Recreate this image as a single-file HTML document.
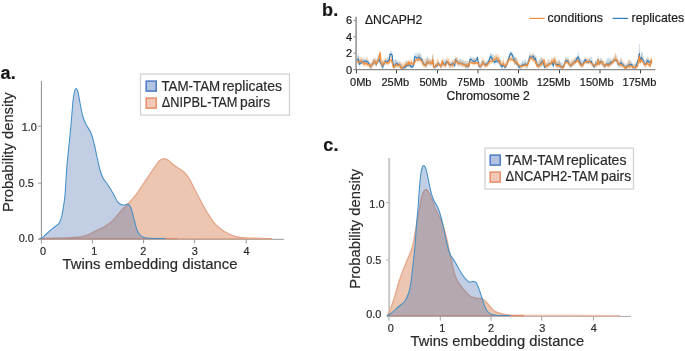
<!DOCTYPE html>
<html lang="en"><head><meta charset="utf-8"><title>Twins embedding distance</title>
<style>html,body{margin:0;padding:0;background:#fff}svg{display:block}text{font-family:"Liberation Sans",Arial,sans-serif;fill:#2b2b2b}text.k{fill:#1c1c1c}</style>
</head><body>
<svg width="685" height="351" viewBox="0 0 685 351">
<rect width="685" height="351" fill="#fff"/>
<g stroke="#2b2b2b" stroke-width="0.2">
<path d="M41.40,81.00 V239.80" fill="none" stroke="#8c8c8c" stroke-width="1.00"/>
<path d="M40.90,239.30 H283.90" fill="none" stroke="#999" stroke-width="1"/>
<path d="M41.40,239.30 v4.2" stroke="#8c8c8c" stroke-width="0.9"/>
<text x="43.00" y="254.60" font-size="10.9" text-anchor="middle">0</text>
<path d="M92.40,239.30 v4.2" stroke="#8c8c8c" stroke-width="0.9"/>
<text x="94.30" y="254.60" font-size="10.9" text-anchor="middle">1</text>
<path d="M143.60,239.30 v4.2" stroke="#8c8c8c" stroke-width="0.9"/>
<text x="143.40" y="254.60" font-size="10.9" text-anchor="middle">2</text>
<path d="M194.60,239.30 v4.2" stroke="#8c8c8c" stroke-width="0.9"/>
<text x="194.80" y="254.60" font-size="10.9" text-anchor="middle">3</text>
<path d="M246.20,239.30 v4.2" stroke="#8c8c8c" stroke-width="0.9"/>
<text x="246.50" y="254.60" font-size="10.9" text-anchor="middle">4</text>
<path d="M41.20,239.20 h-3.20" stroke="#8c8c8c" stroke-width="0.9"/>
<text x="33.90" y="241.70" font-size="10.9" text-anchor="end">0.0</text>
<path d="M41.20,183.20 h-3.20" stroke="#8c8c8c" stroke-width="0.9"/>
<text x="33.90" y="187.30" font-size="10.9" text-anchor="end">0.5</text>
<path d="M41.20,126.20 h-3.20" stroke="#8c8c8c" stroke-width="0.9"/>
<text x="36.90" y="131.00" font-size="10.9" text-anchor="end">1.0</text>
<path d="M39.60,238.60 C44.00,238.50 59.27,238.27 66.00,238.00 C72.73,237.73 76.33,237.50 80.00,237.00 C83.67,236.50 85.33,236.00 88.00,235.00 C90.67,234.00 93.33,232.33 96.00,231.00 C98.67,229.67 101.67,228.33 104.00,227.00 C106.33,225.67 108.00,224.67 110.00,223.00 C112.00,221.33 114.00,219.17 116.00,217.00 C118.00,214.83 120.00,212.17 122.00,210.00 C124.00,207.83 125.70,206.50 128.00,204.00 C130.30,201.50 132.67,199.17 135.80,195.00 C138.93,190.83 143.97,183.17 146.80,179.00 C149.63,174.83 150.83,172.90 152.80,170.00 C154.77,167.10 157.20,163.33 158.60,161.60 C160.00,159.87 160.23,160.08 161.20,159.60 C162.17,159.12 163.27,158.63 164.40,158.70 C165.53,158.77 166.57,159.02 168.00,160.00 C169.43,160.98 171.33,163.27 173.00,164.60 C174.67,165.93 176.33,166.90 178.00,168.00 C179.67,169.10 181.50,169.97 183.00,171.20 C184.50,172.43 185.83,173.90 187.00,175.40 C188.17,176.90 188.83,178.10 190.00,180.20 C191.17,182.30 192.73,185.53 194.00,188.00 C195.27,190.47 195.93,191.83 197.60,195.00 C199.27,198.17 201.93,203.33 204.00,207.00 C206.07,210.67 208.00,214.00 210.00,217.00 C212.00,220.00 213.67,222.62 216.00,225.00 C218.33,227.38 221.33,229.58 224.00,231.30 C226.67,233.02 229.33,234.27 232.00,235.30 C234.67,236.33 237.33,237.03 240.00,237.50 C242.67,237.97 242.67,237.92 248.00,238.10 C253.33,238.28 268.00,238.52 272.00,238.60 L272.00,239.00 L39.60,239.00 Z" fill="#d48052" fill-opacity="0.45" stroke="none"/>
<path d="M39.60,238.60 C44.00,238.50 59.27,238.27 66.00,238.00 C72.73,237.73 76.33,237.50 80.00,237.00 C83.67,236.50 85.33,236.00 88.00,235.00 C90.67,234.00 93.33,232.33 96.00,231.00 C98.67,229.67 101.67,228.33 104.00,227.00 C106.33,225.67 108.00,224.67 110.00,223.00 C112.00,221.33 114.00,219.17 116.00,217.00 C118.00,214.83 120.00,212.17 122.00,210.00 C124.00,207.83 125.70,206.50 128.00,204.00 C130.30,201.50 132.67,199.17 135.80,195.00 C138.93,190.83 143.97,183.17 146.80,179.00 C149.63,174.83 150.83,172.90 152.80,170.00 C154.77,167.10 157.20,163.33 158.60,161.60 C160.00,159.87 160.23,160.08 161.20,159.60 C162.17,159.12 163.27,158.63 164.40,158.70 C165.53,158.77 166.57,159.02 168.00,160.00 C169.43,160.98 171.33,163.27 173.00,164.60 C174.67,165.93 176.33,166.90 178.00,168.00 C179.67,169.10 181.50,169.97 183.00,171.20 C184.50,172.43 185.83,173.90 187.00,175.40 C188.17,176.90 188.83,178.10 190.00,180.20 C191.17,182.30 192.73,185.53 194.00,188.00 C195.27,190.47 195.93,191.83 197.60,195.00 C199.27,198.17 201.93,203.33 204.00,207.00 C206.07,210.67 208.00,214.00 210.00,217.00 C212.00,220.00 213.67,222.62 216.00,225.00 C218.33,227.38 221.33,229.58 224.00,231.30 C226.67,233.02 229.33,234.27 232.00,235.30 C234.67,236.33 237.33,237.03 240.00,237.50 C242.67,237.97 242.67,237.92 248.00,238.10 C253.33,238.28 268.00,238.52 272.00,238.60" fill="none" stroke="#e5a98d" stroke-width="1.40" stroke-linejoin="round"/>
<path d="M39.60,238.90 C39.98,238.75 40.68,238.90 41.90,238.00 C43.12,237.10 45.23,234.97 46.90,233.50 C48.57,232.03 50.23,230.58 51.90,229.20 C53.57,227.82 55.63,226.30 56.90,225.20 C58.17,224.10 58.65,224.30 59.50,222.60 C60.35,220.90 61.25,218.27 62.00,215.00 C62.75,211.73 63.50,206.33 64.00,203.00 C64.50,199.67 64.50,201.33 65.00,195.00 C65.50,188.67 66.33,173.33 67.00,165.00 C67.67,156.67 68.33,151.67 69.00,145.00 C69.67,138.33 70.33,132.33 71.00,125.00 C71.67,117.67 72.43,106.50 73.00,101.00 C73.57,95.50 73.90,94.10 74.40,92.00 C74.90,89.90 75.40,88.40 76.00,88.40 C76.60,88.40 77.33,89.57 78.00,92.00 C78.67,94.43 79.17,98.83 80.00,103.00 C80.83,107.17 81.93,113.33 83.00,117.00 C84.07,120.67 85.07,122.33 86.40,125.00 C87.73,127.67 89.73,130.00 91.00,133.00 C92.27,136.00 93.00,139.00 94.00,143.00 C95.00,147.00 96.00,152.50 97.00,157.00 C98.00,161.50 99.00,166.50 100.00,170.00 C101.00,173.50 101.67,175.50 103.00,178.00 C104.33,180.50 106.17,182.17 108.00,185.00 C109.83,187.83 112.50,192.33 114.00,195.00 C115.50,197.67 116.00,199.50 117.00,201.00 C118.00,202.50 118.83,203.33 120.00,204.00 C121.17,204.67 122.67,205.00 124.00,205.00 C125.33,205.00 126.83,203.50 128.00,204.00 C129.17,204.50 130.00,205.50 131.00,208.00 C132.00,210.50 133.00,215.33 134.00,219.00 C135.00,222.67 136.00,227.33 137.00,230.00 C138.00,232.67 138.83,233.77 140.00,235.00 C141.17,236.23 142.33,236.85 144.00,237.40 C145.67,237.95 146.50,238.10 150.00,238.30 C153.50,238.50 162.50,238.55 165.00,238.60 L165.00,239.00 L39.60,239.00 Z" fill="#4c72b0" fill-opacity="0.35" stroke="none"/>
<path d="M39.60,238.60 H150.00" stroke="#b98b85" stroke-width="1.4"/>
<path d="M150.00,238.60 H177.00" stroke="#df8e6e" stroke-width="1.4"/>
<path d="M177.00,238.60 H272.00" stroke="#e5a585" stroke-width="1.25"/>
<path d="M39.60,238.90 C39.98,238.75 40.68,238.90 41.90,238.00 C43.12,237.10 45.23,234.97 46.90,233.50 C48.57,232.03 50.23,230.58 51.90,229.20 C53.57,227.82 55.63,226.30 56.90,225.20 C58.17,224.10 58.65,224.30 59.50,222.60 C60.35,220.90 61.25,218.27 62.00,215.00 C62.75,211.73 63.50,206.33 64.00,203.00 C64.50,199.67 64.50,201.33 65.00,195.00 C65.50,188.67 66.33,173.33 67.00,165.00 C67.67,156.67 68.33,151.67 69.00,145.00 C69.67,138.33 70.33,132.33 71.00,125.00 C71.67,117.67 72.43,106.50 73.00,101.00 C73.57,95.50 73.90,94.10 74.40,92.00 C74.90,89.90 75.40,88.40 76.00,88.40 C76.60,88.40 77.33,89.57 78.00,92.00 C78.67,94.43 79.17,98.83 80.00,103.00 C80.83,107.17 81.93,113.33 83.00,117.00 C84.07,120.67 85.07,122.33 86.40,125.00 C87.73,127.67 89.73,130.00 91.00,133.00 C92.27,136.00 93.00,139.00 94.00,143.00 C95.00,147.00 96.00,152.50 97.00,157.00 C98.00,161.50 99.00,166.50 100.00,170.00 C101.00,173.50 101.67,175.50 103.00,178.00 C104.33,180.50 106.17,182.17 108.00,185.00 C109.83,187.83 112.50,192.33 114.00,195.00 C115.50,197.67 116.00,199.50 117.00,201.00 C118.00,202.50 118.83,203.33 120.00,204.00 C121.17,204.67 122.67,205.00 124.00,205.00 C125.33,205.00 126.83,203.50 128.00,204.00 C129.17,204.50 130.00,205.50 131.00,208.00 C132.00,210.50 133.00,215.33 134.00,219.00 C135.00,222.67 136.00,227.33 137.00,230.00 C138.00,232.67 138.83,233.77 140.00,235.00 C141.17,236.23 142.33,236.85 144.00,237.40 C145.67,237.95 146.50,238.10 150.00,238.30 C153.50,238.50 162.50,238.55 165.00,238.60" fill="none" stroke="#428fc8" stroke-width="1.05" stroke-linejoin="round" stroke-linecap="round"/>
<text transform="translate(12.70,212.10) rotate(-90)" font-size="15.3" textLength="119.85" lengthAdjust="spacingAndGlyphs">Probability density</text>
<text x="62.60" y="269.10" font-size="15.3" textLength="174.85" lengthAdjust="spacingAndGlyphs">Twins embedding distance</text>
<rect x="140.50" y="74.10" width="149.00" height="41.00" fill="#fff" stroke="#d2d2d2" stroke-width="1.3"/>
<rect x="146.20" y="81.10" width="10" height="10" fill="#b1c3e0" stroke="#4b7bc4" stroke-width="1.5"/>
<rect x="146.20" y="98.10" width="10" height="10" fill="#f1c9b6" stroke="#e58f68" stroke-width="1.5"/>
<text x="161.40" y="91.00" font-size="14.3" textLength="58.82" lengthAdjust="spacingAndGlyphs">TAM-TAM</text>
<text x="222.16" y="91.00" font-size="14.3" textLength="59.83" lengthAdjust="spacingAndGlyphs">replicates</text>
<text x="161.82" y="107.40" font-size="14.3" textLength="75.64" lengthAdjust="spacingAndGlyphs">ΔNIPBL-TAM</text>
<text x="240.10" y="107.40" font-size="14.3" textLength="30.09" lengthAdjust="spacingAndGlyphs">pairs</text>
<text x="0.40" y="78.50" font-size="18" font-weight="bold" style="fill:#161616" stroke="#161616" stroke-width="0.2" stroke-linejoin="round" letter-spacing="0.3">a.</text>
</g>
<g stroke="#2b2b2b" stroke-width="0.2">
<path d="M389.20,158.00 V316.90" fill="none" stroke="#c8c8c8" stroke-width="2.00"/>
<path d="M388.20,316.40 H630.90" fill="none" stroke="#a8a8a8" stroke-width="1"/>
<path d="M388.90,316.40 v4.2" stroke="#959595" stroke-width="0.9"/>
<text x="390.80" y="332.10" font-size="10.9" text-anchor="middle">0</text>
<path d="M440.30,316.40 v4.2" stroke="#959595" stroke-width="0.9"/>
<text x="442.30" y="332.10" font-size="10.9" text-anchor="middle">1</text>
<path d="M491.00,316.40 v4.2" stroke="#959595" stroke-width="0.9"/>
<text x="491.00" y="332.10" font-size="10.9" text-anchor="middle">2</text>
<path d="M541.60,316.40 v4.2" stroke="#959595" stroke-width="0.9"/>
<text x="542.30" y="332.10" font-size="10.9" text-anchor="middle">3</text>
<path d="M593.60,316.40 v4.2" stroke="#959595" stroke-width="0.9"/>
<text x="593.80" y="332.10" font-size="10.9" text-anchor="middle">4</text>
<path d="M388.50,316.20 h-2.20" stroke="#959595" stroke-width="0.9"/>
<text x="381.30" y="318.10" font-size="10.9" text-anchor="end">0.0</text>
<path d="M388.50,260.00 h-2.20" stroke="#959595" stroke-width="0.9"/>
<text x="381.30" y="263.90" font-size="10.9" text-anchor="end">0.5</text>
<path d="M388.50,202.60 h-2.20" stroke="#959595" stroke-width="0.9"/>
<text x="384.50" y="207.80" font-size="10.9" text-anchor="end">1.0</text>
<path d="M387.30,315.60 C387.75,314.67 389.05,312.27 390.00,310.00 C390.95,307.73 392.00,305.00 393.00,302.00 C394.00,299.00 394.97,295.50 396.00,292.00 C397.03,288.50 397.98,284.67 399.20,281.00 C400.42,277.33 401.82,273.83 403.30,270.00 C404.78,266.17 406.63,261.67 408.10,258.00 C409.57,254.33 411.02,251.67 412.10,248.00 C413.18,244.33 413.72,240.67 414.60,236.00 C415.48,231.33 416.50,225.00 417.40,220.00 C418.30,215.00 419.40,209.33 420.00,206.00 C420.60,202.67 420.53,202.10 421.00,200.00 C421.47,197.90 422.23,194.98 422.80,193.40 C423.37,191.82 423.88,191.10 424.40,190.50 C424.92,189.90 425.37,189.75 425.90,189.80 C426.43,189.85 426.98,190.10 427.60,190.80 C428.22,191.50 428.87,192.47 429.60,194.00 C430.33,195.53 431.10,197.67 432.00,200.00 C432.90,202.33 433.83,205.33 435.00,208.00 C436.17,210.67 437.83,213.67 439.00,216.00 C440.17,218.33 441.10,219.67 442.00,222.00 C442.90,224.33 443.57,227.00 444.40,230.00 C445.23,233.00 446.23,236.67 447.00,240.00 C447.77,243.33 448.33,247.00 449.00,250.00 C449.67,253.00 450.25,254.67 451.00,258.00 C451.75,261.33 452.67,266.67 453.50,270.00 C454.33,273.33 454.92,275.50 456.00,278.00 C457.08,280.50 458.50,282.83 460.00,285.00 C461.50,287.17 463.33,289.17 465.00,291.00 C466.67,292.83 468.33,294.83 470.00,296.00 C471.67,297.17 473.33,297.57 475.00,298.00 C476.67,298.43 478.50,298.27 480.00,298.60 C481.50,298.93 482.67,299.10 484.00,300.00 C485.33,300.90 486.67,302.50 488.00,304.00 C489.33,305.50 490.67,307.67 492.00,309.00 C493.33,310.33 494.33,311.17 496.00,312.00 C497.67,312.83 499.67,313.47 502.00,314.00 C504.33,314.53 506.33,314.95 510.00,315.20 C513.67,315.45 505.67,315.43 524.00,315.50 C542.33,315.57 604.00,315.58 620.00,315.60 L620.00,316.00 L387.30,316.00 Z" fill="#d48052" fill-opacity="0.45" stroke="none"/>
<path d="M387.30,315.60 C387.75,314.67 389.05,312.27 390.00,310.00 C390.95,307.73 392.00,305.00 393.00,302.00 C394.00,299.00 394.97,295.50 396.00,292.00 C397.03,288.50 397.98,284.67 399.20,281.00 C400.42,277.33 401.82,273.83 403.30,270.00 C404.78,266.17 406.63,261.67 408.10,258.00 C409.57,254.33 411.02,251.67 412.10,248.00 C413.18,244.33 413.72,240.67 414.60,236.00 C415.48,231.33 416.50,225.00 417.40,220.00 C418.30,215.00 419.40,209.33 420.00,206.00 C420.60,202.67 420.53,202.10 421.00,200.00 C421.47,197.90 422.23,194.98 422.80,193.40 C423.37,191.82 423.88,191.10 424.40,190.50 C424.92,189.90 425.37,189.75 425.90,189.80 C426.43,189.85 426.98,190.10 427.60,190.80 C428.22,191.50 428.87,192.47 429.60,194.00 C430.33,195.53 431.10,197.67 432.00,200.00 C432.90,202.33 433.83,205.33 435.00,208.00 C436.17,210.67 437.83,213.67 439.00,216.00 C440.17,218.33 441.10,219.67 442.00,222.00 C442.90,224.33 443.57,227.00 444.40,230.00 C445.23,233.00 446.23,236.67 447.00,240.00 C447.77,243.33 448.33,247.00 449.00,250.00 C449.67,253.00 450.25,254.67 451.00,258.00 C451.75,261.33 452.67,266.67 453.50,270.00 C454.33,273.33 454.92,275.50 456.00,278.00 C457.08,280.50 458.50,282.83 460.00,285.00 C461.50,287.17 463.33,289.17 465.00,291.00 C466.67,292.83 468.33,294.83 470.00,296.00 C471.67,297.17 473.33,297.57 475.00,298.00 C476.67,298.43 478.50,298.27 480.00,298.60 C481.50,298.93 482.67,299.10 484.00,300.00 C485.33,300.90 486.67,302.50 488.00,304.00 C489.33,305.50 490.67,307.67 492.00,309.00 C493.33,310.33 494.33,311.17 496.00,312.00 C497.67,312.83 499.67,313.47 502.00,314.00 C504.33,314.53 506.33,314.95 510.00,315.20 C513.67,315.45 505.67,315.43 524.00,315.50 C542.33,315.57 604.00,315.58 620.00,315.60" fill="none" stroke="#e5a98d" stroke-width="1.40" stroke-linejoin="round"/>
<path d="M387.30,315.80 C388.08,315.28 390.22,314.17 392.00,312.70 C393.78,311.23 395.83,308.95 398.00,307.00 C400.17,305.05 403.17,303.50 405.00,301.00 C406.83,298.50 408.00,295.17 409.00,292.00 C410.00,288.83 410.43,285.67 411.00,282.00 C411.57,278.33 411.73,276.00 412.40,270.00 C413.07,264.00 414.33,253.33 415.00,246.00 C415.67,238.67 415.90,232.33 416.40,226.00 C416.90,219.67 417.63,212.33 418.00,208.00 C418.37,203.67 418.33,203.67 418.60,200.00 C418.87,196.33 419.20,190.50 419.60,186.00 C420.00,181.50 420.53,176.17 421.00,173.00 C421.47,169.83 421.97,168.27 422.40,167.00 C422.83,165.73 423.13,165.40 423.60,165.40 C424.07,165.40 424.63,165.73 425.20,167.00 C425.77,168.27 426.37,170.33 427.00,173.00 C427.63,175.67 428.33,179.83 429.00,183.00 C429.67,186.17 430.23,189.17 431.00,192.00 C431.77,194.83 432.43,197.33 433.60,200.00 C434.77,202.67 436.77,205.17 438.00,208.00 C439.23,210.83 440.00,213.33 441.00,217.00 C442.00,220.67 443.00,225.50 444.00,230.00 C445.00,234.50 446.00,240.00 447.00,244.00 C448.00,248.00 448.67,251.00 450.00,254.00 C451.33,257.00 453.33,259.17 455.00,262.00 C456.67,264.83 458.50,268.50 460.00,271.00 C461.50,273.50 462.50,275.17 464.00,277.00 C465.50,278.83 467.50,281.27 469.00,282.00 C470.50,282.73 471.83,281.33 473.00,281.40 C474.17,281.47 475.00,281.13 476.00,282.40 C477.00,283.67 478.00,286.40 479.00,289.00 C480.00,291.60 481.00,295.00 482.00,298.00 C483.00,301.00 484.00,304.67 485.00,307.00 C486.00,309.33 486.83,310.77 488.00,312.00 C489.17,313.23 490.33,313.83 492.00,314.40 C493.67,314.97 495.00,315.20 498.00,315.40 C501.00,315.60 508.00,315.57 510.00,315.60 L510.00,316.00 L387.30,316.00 Z" fill="#4c72b0" fill-opacity="0.35" stroke="none"/>
<path d="M387.30,315.60 H494.00" stroke="#b98b85" stroke-width="1.4"/>
<path d="M494.00,315.60 H524.00" stroke="#df8e6e" stroke-width="1.4"/>
<path d="M524.00,315.60 H620.00" stroke="#ecc0ac" stroke-width="1.25"/>
<path d="M387.30,315.80 C388.08,315.28 390.22,314.17 392.00,312.70 C393.78,311.23 395.83,308.95 398.00,307.00 C400.17,305.05 403.17,303.50 405.00,301.00 C406.83,298.50 408.00,295.17 409.00,292.00 C410.00,288.83 410.43,285.67 411.00,282.00 C411.57,278.33 411.73,276.00 412.40,270.00 C413.07,264.00 414.33,253.33 415.00,246.00 C415.67,238.67 415.90,232.33 416.40,226.00 C416.90,219.67 417.63,212.33 418.00,208.00 C418.37,203.67 418.33,203.67 418.60,200.00 C418.87,196.33 419.20,190.50 419.60,186.00 C420.00,181.50 420.53,176.17 421.00,173.00 C421.47,169.83 421.97,168.27 422.40,167.00 C422.83,165.73 423.13,165.40 423.60,165.40 C424.07,165.40 424.63,165.73 425.20,167.00 C425.77,168.27 426.37,170.33 427.00,173.00 C427.63,175.67 428.33,179.83 429.00,183.00 C429.67,186.17 430.23,189.17 431.00,192.00 C431.77,194.83 432.43,197.33 433.60,200.00 C434.77,202.67 436.77,205.17 438.00,208.00 C439.23,210.83 440.00,213.33 441.00,217.00 C442.00,220.67 443.00,225.50 444.00,230.00 C445.00,234.50 446.00,240.00 447.00,244.00 C448.00,248.00 448.67,251.00 450.00,254.00 C451.33,257.00 453.33,259.17 455.00,262.00 C456.67,264.83 458.50,268.50 460.00,271.00 C461.50,273.50 462.50,275.17 464.00,277.00 C465.50,278.83 467.50,281.27 469.00,282.00 C470.50,282.73 471.83,281.33 473.00,281.40 C474.17,281.47 475.00,281.13 476.00,282.40 C477.00,283.67 478.00,286.40 479.00,289.00 C480.00,291.60 481.00,295.00 482.00,298.00 C483.00,301.00 484.00,304.67 485.00,307.00 C486.00,309.33 486.83,310.77 488.00,312.00 C489.17,313.23 490.33,313.83 492.00,314.40 C493.67,314.97 495.00,315.20 498.00,315.40 C501.00,315.60 508.00,315.57 510.00,315.60" fill="none" stroke="#428fc8" stroke-width="1.05" stroke-linejoin="round" stroke-linecap="round"/>
<text transform="translate(360.00,288.70) rotate(-90)" font-size="15.3" textLength="119.85" lengthAdjust="spacingAndGlyphs">Probability density</text>
<text x="410.60" y="345.70" font-size="15.3" textLength="173.50" lengthAdjust="spacingAndGlyphs">Twins embedding distance</text>
<rect x="485.00" y="148.10" width="148.50" height="41.00" fill="#fff" stroke="#d2d2d2" stroke-width="1.3"/>
<rect x="490.20" y="155.10" width="10" height="10" fill="#b1c3e0" stroke="#4b7bc4" stroke-width="1.5"/>
<rect x="490.20" y="172.10" width="10" height="10" fill="#f1c9b6" stroke="#e58f68" stroke-width="1.5"/>
<text x="505.30" y="165.00" font-size="14.3" textLength="59.23" lengthAdjust="spacingAndGlyphs">TAM-TAM</text>
<text x="566.25" y="165.00" font-size="14.3" textLength="60.24" lengthAdjust="spacingAndGlyphs">replicates</text>
<text x="505.51" y="181.40" font-size="14.3" textLength="92.86" lengthAdjust="spacingAndGlyphs">ΔNCAPH2-TAM</text>
<text x="601.00" y="181.40" font-size="14.3" textLength="30.09" lengthAdjust="spacingAndGlyphs">pairs</text>
<text x="323.20" y="151.00" font-size="18" font-weight="bold" style="fill:#161616" stroke="#161616" stroke-width="0.2" stroke-linejoin="round" letter-spacing="0.3">c.</text>
</g>
<g fill="#1c1c1c" stroke="#1c1c1c" stroke-width="0.2">
<path d="M356.1,16.8 V70.2" fill="none" stroke="#a0a0a0" stroke-width="1.8"/>
<path d="M355.2,69.6 H655.2" fill="none" stroke="#8a8a8a" stroke-width="1.2"/>
<path d="M357.0,55.4 L358.5,55.9 L359.5,62.2 L361.0,58.8 L362.5,58.6 L364.0,59.2 L365.5,58.0 L367.0,60.1 L368.5,60.5 L370.0,63.8 L371.4,62.5 L372.9,60.0 L373.9,58.5 L375.4,59.6 L376.4,59.1 L377.9,55.2 L379.4,54.8 L380.1,59.4 L381.4,62.6 L382.7,62.0 L383.9,61.8 L385.1,58.0 L386.4,58.6 L387.9,57.5 L389.4,55.8 L390.1,51.2 L391.4,50.5 L392.4,51.9 L392.7,60.1 L393.9,59.2 L395.4,60.3 L396.9,59.0 L398.4,62.0 L399.9,60.5 L400.9,63.4 L402.9,66.0 L404.8,65.3 L406.3,62.1 L407.8,61.6 L409.3,61.2 L410.8,62.5 L412.3,64.8 L413.8,60.8 L414.5,52.0 L415.5,53.6 L417.0,52.3 L419.0,54.8 L420.5,52.6 L422.0,55.5 L423.0,60.2 L424.5,61.6 L426.0,62.5 L427.5,60.1 L429.0,58.0 L430.5,60.0 L431.9,59.8 L432.9,55.6 L433.7,63.5 L435.4,63.9 L436.9,64.0 L438.4,60.2 L439.9,62.5 L441.4,64.6 L442.4,59.7 L443.9,59.2 L445.4,61.9 L446.7,58.5 L447.9,61.0 L448.9,61.7 L450.4,62.3 L451.9,60.9 L453.4,59.0 L454.7,61.1 L455.4,57.5 L456.9,56.7 L458.4,61.5 L459.9,59.6 L461.4,59.3 L462.9,60.5 L464.3,61.4 L465.8,63.5 L467.3,62.9 L468.8,63.2 L470.0,55.2 L471.8,57.3 L473.3,57.2 L475.0,58.0 L476.0,58.4 L477.5,55.2 L478.5,60.4 L480.0,64.3 L481.5,60.6 L483.0,60.1 L484.5,60.3 L486.0,62.6 L487.5,59.5 L489.0,58.3 L490.5,53.0 L491.9,54.3 L493.4,54.2 L494.9,59.9 L496.4,57.7 L497.9,56.4 L499.4,57.5 L500.4,60.1 L501.9,63.6 L503.4,59.8 L504.9,64.8 L506.4,62.6 L507.9,57.0 L509.4,52.5 L510.9,51.0 L512.4,51.5 L513.4,54.3 L514.9,57.0 L516.4,59.9 L517.9,62.7 L519.4,65.0 L520.9,62.5 L522.4,62.4 L523.9,59.7 L525.3,59.2 L526.8,60.4 L528.3,60.5 L529.6,55.0 L531.3,54.4 L533.3,54.6 L534.8,54.6 L535.5,56.0 L536.5,56.8 L538.0,62.4 L539.5,59.4 L541.0,57.4 L542.5,59.4 L543.5,58.7 L544.5,64.7 L546.0,63.8 L547.5,62.7 L549.0,59.2 L550.5,61.5 L551.9,57.1 L553.4,63.3 L554.4,56.2 L555.4,58.3 L556.4,61.2 L557.9,59.5 L559.4,59.6 L560.9,63.3 L562.4,62.8 L563.9,63.8 L565.4,57.4 L566.9,57.3 L568.4,57.7 L569.9,63.7 L571.4,61.8 L572.9,61.5 L574.4,59.6 L575.9,58.1 L577.4,54.5 L578.4,50.4 L579.4,57.5 L580.9,60.0 L582.4,60.5 L583.9,59.4 L585.3,56.8 L586.8,59.8 L588.3,59.9 L589.8,58.5 L591.3,55.2 L592.8,60.9 L594.0,64.5 L595.5,62.4 L597.0,59.0 L598.2,55.4 L599.0,61.1 L600.5,57.8 L602.0,58.4 L603.5,62.0 L605.0,64.6 L606.5,59.5 L608.0,57.8 L609.5,57.5 L610.9,58.9 L612.4,59.7 L613.9,58.3 L615.4,55.0 L616.9,55.6 L617.9,62.0 L619.4,59.7 L620.9,60.6 L622.4,61.3 L623.9,63.5 L625.4,65.0 L626.9,63.3 L628.4,63.5 L629.9,59.5 L631.4,60.9 L632.9,63.8 L634.4,64.0 L635.9,64.5 L637.4,59.4 L638.4,56.2 L639.4,51.3 L640.1,58.8 L641.4,52.2 L642.9,52.4 L644.3,60.9 L645.8,59.9 L647.3,56.0 L648.8,58.6 L650.3,60.6 L651.3,59.9 L651.6,61.1 L651.6,66.8 L651.3,64.1 L650.3,66.1 L648.8,65.4 L647.3,62.3 L645.8,68.0 L644.3,67.4 L642.9,62.0 L641.4,60.2 L640.1,63.3 L639.4,55.1 L638.4,61.2 L637.4,65.0 L635.9,69.2 L634.4,69.3 L632.9,69.3 L631.4,67.2 L629.9,67.7 L628.4,68.1 L626.9,68.9 L625.4,69.3 L623.9,67.8 L622.4,67.7 L620.9,66.1 L619.4,67.2 L617.9,67.4 L616.9,64.0 L615.4,61.8 L613.9,62.9 L612.4,65.0 L610.9,64.4 L609.5,67.8 L608.0,65.7 L606.5,66.2 L605.0,69.3 L603.5,67.4 L602.0,66.5 L600.5,63.6 L599.0,67.4 L598.2,61.7 L597.0,67.2 L595.5,66.0 L594.0,69.3 L592.8,66.7 L591.3,63.3 L589.8,62.9 L588.3,64.6 L586.8,64.6 L585.3,62.5 L583.9,65.7 L582.4,68.1 L580.9,66.0 L579.4,65.2 L578.4,60.5 L577.4,59.8 L575.9,63.2 L574.4,65.3 L572.9,65.9 L571.4,67.6 L569.9,69.2 L568.4,65.2 L566.9,63.2 L565.4,63.8 L563.9,67.5 L562.4,69.3 L560.9,69.0 L559.4,67.4 L557.9,67.5 L556.4,67.0 L555.4,65.6 L554.4,62.7 L553.4,68.3 L551.9,65.4 L550.5,65.3 L549.0,66.7 L547.5,66.8 L546.0,69.3 L544.5,69.3 L543.5,66.3 L542.5,64.9 L541.0,66.5 L539.5,68.3 L538.0,68.8 L536.5,66.3 L535.5,60.6 L534.8,61.1 L533.3,58.5 L531.3,59.6 L529.6,59.8 L528.3,66.4 L526.8,68.9 L525.3,67.3 L523.9,65.9 L522.4,67.3 L520.9,69.3 L519.4,69.3 L517.9,68.9 L516.4,64.3 L514.9,64.0 L513.4,60.9 L512.4,57.3 L510.9,55.1 L509.4,59.9 L507.9,63.3 L506.4,66.9 L504.9,69.3 L503.4,66.9 L501.9,69.3 L500.4,67.6 L499.4,63.6 L497.9,64.9 L496.4,62.1 L494.9,65.9 L493.4,63.5 L491.9,61.3 L490.5,59.3 L489.0,62.6 L487.5,67.2 L486.0,66.7 L484.5,67.4 L483.0,63.4 L481.5,68.7 L480.0,69.2 L478.5,66.8 L477.5,59.9 L476.0,62.4 L475.0,63.7 L473.3,63.7 L471.8,62.6 L470.0,61.6 L468.8,68.1 L467.3,68.8 L465.8,69.3 L464.3,66.2 L462.9,66.5 L461.4,67.0 L459.9,65.1 L458.4,66.9 L456.9,63.7 L455.4,62.4 L454.7,68.5 L453.4,66.2 L451.9,67.4 L450.4,67.4 L448.9,67.9 L447.9,64.5 L446.7,63.8 L445.4,68.5 L443.9,66.0 L442.4,65.4 L441.4,69.3 L439.9,67.5 L438.4,65.5 L436.9,67.3 L435.4,69.3 L433.7,69.3 L432.9,62.1 L431.9,65.1 L430.5,65.9 L429.0,65.3 L427.5,64.3 L426.0,68.5 L424.5,66.6 L423.0,65.5 L422.0,62.4 L420.5,59.9 L419.0,60.5 L417.0,60.8 L415.5,59.8 L414.5,59.4 L413.8,66.8 L412.3,69.0 L410.8,68.0 L409.3,67.9 L407.8,66.3 L406.3,68.7 L404.8,69.3 L402.9,69.3 L400.9,69.3 L399.9,67.6 L398.4,68.7 L396.9,65.1 L395.4,67.7 L393.9,69.3 L392.7,66.5 L392.4,59.3 L391.4,57.0 L390.1,55.9 L389.4,61.7 L387.9,62.3 L386.4,64.4 L385.1,62.3 L383.9,67.9 L382.7,69.3 L381.4,67.3 L380.1,64.0 L379.4,62.3 L377.9,63.2 L376.4,66.1 L375.4,65.7 L373.9,64.7 L372.9,66.3 L371.4,69.2 L370.0,69.1 L368.5,65.4 L367.0,64.9 L365.5,62.4 L364.0,64.4 L362.5,63.5 L361.0,64.7 L359.5,67.0 L358.5,62.9 L357.0,62.3 Z" fill="#1f77b4" fill-opacity="0.2" stroke="none"/>
<path d="M357.0,57.5 L358.5,57.7 L360.0,56.1 L361.5,58.6 L363.0,57.3 L363.5,62.3 L365.0,60.5 L367.0,55.8 L369.0,60.6 L370.0,63.8 L371.4,63.0 L372.9,58.0 L373.9,58.3 L375.4,59.3 L376.4,62.1 L377.9,57.2 L378.9,53.3 L380.1,46.7 L380.7,56.8 L381.4,60.3 L382.4,61.6 L383.4,59.1 L384.4,59.8 L385.9,58.1 L387.4,61.1 L388.9,59.5 L390.4,55.1 L391.7,55.7 L392.4,57.4 L393.4,65.6 L394.9,63.7 L396.4,61.5 L397.9,63.1 L399.4,62.5 L400.4,62.8 L401.9,63.7 L403.4,61.6 L404.8,64.0 L406.3,59.9 L407.8,61.8 L408.8,57.6 L409.8,61.1 L411.3,57.8 L412.3,61.4 L413.8,59.7 L415.5,57.6 L417.5,55.6 L419.5,54.5 L421.0,56.4 L422.5,58.3 L423.5,58.7 L425.0,59.3 L426.5,59.9 L427.5,57.9 L429.0,58.8 L430.5,59.5 L431.4,59.3 L432.7,52.7 L433.4,64.3 L434.9,62.5 L436.4,59.4 L437.9,59.7 L439.4,61.8 L440.9,64.2 L442.1,58.1 L442.9,56.9 L444.4,61.7 L445.9,61.4 L446.9,57.9 L448.4,59.6 L449.4,58.0 L450.9,62.0 L452.4,61.5 L453.9,61.3 L455.4,57.9 L456.9,56.3 L458.4,59.9 L459.9,60.5 L461.4,59.3 L462.9,62.5 L464.3,60.2 L465.8,61.8 L467.3,60.9 L468.8,62.0 L469.8,60.1 L471.3,58.3 L472.8,59.1 L474.5,59.6 L476.0,60.5 L477.5,57.9 L479.0,62.3 L480.5,64.1 L482.0,56.1 L483.0,60.3 L484.5,60.6 L486.0,61.5 L487.5,61.9 L489.0,58.6 L490.5,57.1 L491.9,57.7 L493.4,55.7 L494.9,54.7 L496.4,53.8 L497.9,54.9 L498.9,57.6 L500.4,60.1 L501.9,60.1 L503.4,61.3 L504.9,62.6 L506.4,60.1 L507.9,57.6 L509.4,54.5 L510.9,56.6 L512.4,56.0 L513.9,57.4 L515.4,58.6 L516.9,58.8 L518.4,60.9 L519.9,63.7 L521.4,64.4 L522.9,64.1 L524.3,61.4 L525.8,62.4 L527.3,61.9 L528.8,58.9 L529.8,54.2 L531.3,54.6 L532.8,54.1 L534.5,56.0 L535.5,58.7 L537.0,61.4 L538.5,63.3 L540.0,58.5 L541.5,61.2 L543.0,59.1 L544.0,56.0 L545.0,61.4 L546.5,61.7 L548.0,58.9 L549.5,59.6 L550.9,61.8 L551.9,57.1 L553.4,58.2 L554.4,54.8 L555.4,59.0 L556.4,61.4 L557.9,62.4 L559.4,60.8 L560.9,63.9 L562.4,65.9 L563.9,63.0 L565.4,57.9 L566.9,58.6 L568.4,58.4 L569.9,60.5 L571.4,61.1 L572.9,59.4 L574.4,57.5 L575.9,57.3 L577.4,56.6 L578.9,59.0 L580.4,60.2 L581.9,62.8 L583.4,61.2 L584.8,59.0 L586.3,56.5 L587.8,59.1 L589.3,57.8 L590.8,61.0 L592.3,60.4 L594.0,64.1 L595.5,61.2 L597.0,60.2 L598.2,56.1 L599.0,60.4 L600.5,57.7 L602.0,59.5 L603.5,61.0 L605.0,61.6 L606.5,61.7 L608.0,62.2 L609.5,61.1 L610.9,59.5 L612.4,59.7 L613.9,56.2 L615.4,53.0 L616.9,55.9 L617.9,59.4 L619.4,62.3 L620.9,62.6 L622.4,57.8 L623.9,62.3 L625.4,66.8 L626.9,63.6 L628.4,59.5 L629.9,59.8 L631.4,62.3 L632.9,64.1 L634.4,63.8 L635.9,64.6 L637.4,62.6 L638.4,58.9 L639.4,51.6 L640.1,60.9 L641.4,55.5 L642.9,56.5 L644.3,61.6 L645.8,61.9 L647.3,58.3 L648.8,62.6 L650.3,62.2 L651.3,57.5 L651.6,58.4 L651.6,65.6 L651.3,62.7 L650.3,69.1 L648.8,66.4 L647.3,66.1 L645.8,67.8 L644.3,66.8 L642.9,64.7 L641.4,62.1 L640.1,66.5 L639.4,58.6 L638.4,65.1 L637.4,69.2 L635.9,69.3 L634.4,69.3 L632.9,68.9 L631.4,68.2 L629.9,69.1 L628.4,68.9 L626.9,69.3 L625.4,69.3 L623.9,69.3 L622.4,67.2 L620.9,67.4 L619.4,67.7 L617.9,65.1 L616.9,61.7 L615.4,61.7 L613.9,63.4 L612.4,64.4 L610.9,66.6 L609.5,67.6 L608.0,68.2 L606.5,66.7 L605.0,68.6 L603.5,67.1 L602.0,64.5 L600.5,66.0 L599.0,66.3 L598.2,62.9 L597.0,67.7 L595.5,67.8 L594.0,67.7 L592.3,65.4 L590.8,65.9 L589.3,64.2 L587.8,64.0 L586.3,64.3 L584.8,64.4 L583.4,67.1 L581.9,68.5 L580.4,66.3 L578.9,64.4 L577.4,62.6 L575.9,63.4 L574.4,65.0 L572.9,66.9 L571.4,66.4 L569.9,67.0 L568.4,65.2 L566.9,64.6 L565.4,63.8 L563.9,68.9 L562.4,69.3 L560.9,68.1 L559.4,68.0 L557.9,68.9 L556.4,67.8 L555.4,66.3 L554.4,62.2 L553.4,66.1 L551.9,63.6 L550.9,65.6 L549.5,67.3 L548.0,67.7 L546.5,69.3 L545.0,67.4 L544.0,62.1 L543.0,64.8 L541.5,65.9 L540.0,66.7 L538.5,68.1 L537.0,68.1 L535.5,64.0 L534.5,63.6 L532.8,61.1 L531.3,60.6 L529.8,61.6 L528.8,63.8 L527.3,67.3 L525.8,68.0 L524.3,67.6 L522.9,68.2 L521.4,68.4 L519.9,69.3 L518.4,67.2 L516.9,65.4 L515.4,65.7 L513.9,63.9 L512.4,61.1 L510.9,62.1 L509.4,60.9 L507.9,64.2 L506.4,66.7 L504.9,68.7 L503.4,66.3 L501.9,67.4 L500.4,65.5 L498.9,63.8 L497.9,62.2 L496.4,61.3 L494.9,61.3 L493.4,62.8 L491.9,63.7 L490.5,63.4 L489.0,65.9 L487.5,66.4 L486.0,68.7 L484.5,67.9 L483.0,64.7 L482.0,67.9 L480.5,68.5 L479.0,67.0 L477.5,64.2 L476.0,65.0 L474.5,66.3 L472.8,66.1 L471.3,64.2 L469.8,65.7 L468.8,68.1 L467.3,67.5 L465.8,68.3 L464.3,67.4 L462.9,66.3 L461.4,65.5 L459.9,65.7 L458.4,67.1 L456.9,64.7 L455.4,63.4 L453.9,67.4 L452.4,67.1 L450.9,68.6 L449.4,68.5 L448.4,63.3 L446.9,64.0 L445.9,68.0 L444.4,68.0 L442.9,66.7 L442.1,64.5 L440.9,69.3 L439.4,66.4 L437.9,65.8 L436.4,67.0 L434.9,69.3 L433.4,67.9 L432.7,62.9 L431.4,65.5 L430.5,65.6 L429.0,64.5 L427.5,64.7 L426.5,66.1 L425.0,66.9 L423.5,67.7 L422.5,65.1 L421.0,63.7 L419.5,61.9 L417.5,62.4 L415.5,62.4 L413.8,66.0 L412.3,67.0 L411.3,63.9 L409.8,68.4 L408.8,64.5 L407.8,67.0 L406.3,67.2 L404.8,68.1 L403.4,68.8 L401.9,69.3 L400.4,68.3 L399.4,67.8 L397.9,67.5 L396.4,67.7 L394.9,67.8 L393.4,69.3 L392.4,65.8 L391.7,61.9 L390.4,62.9 L388.9,65.2 L387.4,65.7 L385.9,64.7 L384.4,64.7 L383.4,65.9 L382.4,67.9 L381.4,66.6 L380.7,61.1 L380.1,54.4 L378.9,59.6 L377.9,63.3 L376.4,65.4 L375.4,65.8 L373.9,63.7 L372.9,67.0 L371.4,69.0 L370.0,69.3 L369.0,66.7 L367.0,66.8 L365.0,66.7 L363.5,67.0 L363.0,63.7 L361.5,64.4 L360.0,63.5 L358.5,64.3 L357.0,63.6 Z" fill="#ff7f0e" fill-opacity="0.2" stroke="none"/>
<path d="M641.4,51.7 V59.8M534.8,55.5 V60.6M553.4,61.5 V67.7M638.4,53.9 V62.3M436.9,62.2 V67.0M496.4,56.1 V61.8M445.4,60.1 V65.9M491.9,54.1 V59.6M644.3,60.0 V65.0M496.4,55.6 V63.2M542.5,57.6 V63.4M426.0,61.7 V66.3M419.0,51.7 V59.0M560.9,62.2 V68.7M541.0,57.5 V64.9M533.3,52.4 V57.7M580.9,59.6 V65.1M465.8,61.0 V67.6M541.0,58.5 V64.6M427.5,55.5 V64.7M529.6,52.1 V58.4M635.9,62.8 V67.6M514.9,56.4 V64.6M399.9,61.4 V66.0M426.0,58.4 V66.7M367.0,59.2 V64.0M608.0,59.6 V66.8M379.4,53.5 V61.7M395.4,59.6 V66.1M467.3,60.7 V67.7M595.5,59.9 V65.8M410.8,62.4 V67.9M613.9,57.0 V61.5M445.4,58.7 V66.0M553.4,59.8 V68.6M373.9,57.9 V63.5M620.9,57.8 V65.9M376.4,61.5 V66.1M358.5,53.2 V61.8M459.9,58.1 V64.8M589.8,58.0 V62.6M445.4,60.9 V66.7M490.5,53.3 V57.9M404.8,61.3 V69.2M522.4,60.0 V66.8M370.0,62.8 V68.6M382.7,60.7 V69.2M623.9,62.9 V67.8M389.4,53.2 V61.2M364.0,56.9 V63.8M475.0,57.6 V62.9M393.9,61.9 V68.2M432.9,55.0 V61.8M516.4,57.7 V63.7M407.8,61.4 V66.7" fill="none" stroke="#1f77b4" stroke-opacity="0.20" stroke-width="1.1"/>
<path d="M407.8,61.8 V66.6M456.9,58.1 V63.3M529.8,55.5 V60.4M527.3,62.5 V68.4M376.4,58.9 V66.5M429.0,58.2 V65.6M394.9,62.4 V67.3M483.0,58.2 V63.9M437.9,57.7 V65.1M455.4,56.3 V61.8M615.4,53.0 V60.7M583.4,61.4 V66.5M474.5,58.4 V64.8M639.4,50.1 V58.0M419.5,55.5 V60.5M498.9,58.1 V63.6M401.9,62.0 V69.2M433.4,61.1 V67.8M382.4,59.6 V68.2M617.9,58.9 V65.0M426.5,61.4 V66.8M578.9,56.2 V64.1M425.0,62.9 V67.8M541.5,59.8 V66.4M376.4,59.3 V65.6M452.4,59.1 V67.6M531.3,55.1 V59.8M629.9,61.5 V68.7M446.9,58.9 V64.6M483.0,59.8 V64.8M559.4,60.5 V66.4M541.5,57.7 V66.9M380.7,56.0 V61.4M648.8,58.6 V67.2M635.9,61.6 V68.7M625.4,62.8 V69.2M391.7,54.1 V62.4M538.5,63.3 V68.5M400.4,64.3 V69.2M432.7,54.5 V60.8M462.9,60.9 V67.1M367.0,60.8 V66.3M620.9,61.1 V65.5M568.4,57.9 V64.9M437.9,58.6 V65.1M387.4,57.6 V64.0M396.4,60.6 V67.1M628.4,62.3 V67.2M497.9,52.9 V61.0M433.4,60.5 V67.7M557.9,61.6 V67.7M651.3,56.9 V61.7M603.5,60.7 V67.6M543.0,59.8 V65.4M375.4,57.3 V64.6M437.9,58.1 V66.4M555.4,57.2 V65.8M647.3,58.8 V65.0M468.8,61.3 V68.8M479.0,61.4 V66.8M580.4,61.9 V65.6M419.5,56.7 V61.3M535.5,56.3 V62.9M503.4,57.5 V66.5M516.9,56.9 V64.5M371.4,63.3 V68.2M446.9,56.3 V64.7M578.9,57.3 V64.8M577.4,57.5 V61.7M361.5,56.7 V63.8M453.9,61.0 V65.6M411.3,59.4 V64.6M538.5,59.8 V67.1M565.4,57.8 V63.7M396.4,60.4 V67.7M498.9,56.6 V63.0M619.4,61.6 V66.5M516.9,57.0 V64.1M587.8,57.9 V64.0M483.0,58.1 V64.5M572.9,59.0 V66.1M367.0,60.0 V64.9M538.5,61.2 V68.9M494.9,56.4 V60.6M437.9,60.1 V65.6M448.4,58.3 V64.9M456.9,59.2 V63.0M551.9,58.7 V64.2M510.9,53.8 V61.0M510.9,55.0 V61.5" fill="none" stroke="#ff7f0e" stroke-opacity="0.22" stroke-width="1.1"/>
<path d="M541.5,60.5 V66.8M620.9,58.2 V66.3M595.5,61.0 V67.3M574.4,57.5 V64.0M540.0,62.0 V67.6M628.4,59.4 V67.5M580.4,59.1 V67.3M397.9,61.3 V66.6M500.4,58.4 V66.1M532.8,54.8 V61.9M406.3,59.8 V66.5M577.4,55.5 V62.2M515.4,57.2 V64.0M479.0,61.2 V66.7M553.4,58.0 V65.2M358.5,56.8 V65.1M532.8,54.9 V60.5M546.5,62.7 V67.7M559.4,61.4 V66.9M650.3,59.7 V67.6M571.4,59.1 V67.8M426.5,58.0 V67.2M360.0,58.8 V62.9M532.8,55.2 V61.0M462.9,59.8 V67.4" fill="none" stroke="#777" stroke-opacity="0.20" stroke-width="1.1"/>
<path d="M639.4,56.5 V44" stroke="#9ab0cf" stroke-opacity="0.45" stroke-width="1"/>
<path d="M357.0,59.9 L357.7,59.5 L358.5,59.4 L359.5,64.4 L360.2,63.3 L361.0,62.9 L361.7,62.3 L362.5,61.4 L363.2,61.2 L364.0,61.9 L364.7,61.5 L365.5,60.9 L366.2,61.3 L367.0,61.9 L367.7,61.9 L368.5,62.9 L369.2,64.4 L370.0,65.9 L370.7,65.4 L371.4,65.9 L372.2,64.6 L372.9,63.4 L373.9,61.4 L374.7,62.0 L375.4,63.4 L376.4,64.4 L377.2,62.5 L377.9,61.4 L378.7,60.3 L379.4,59.4 L380.1,61.9 L380.8,63.8 L381.4,64.9 L382.1,65.5 L382.7,66.9 L383.3,65.4 L383.9,64.4 L384.5,62.8 L385.1,60.9 L385.8,61.9 L386.4,61.9 L387.2,61.5 L387.9,60.9 L388.6,60.1 L389.4,59.4 L390.1,54.0 L390.7,54.5 L391.4,54.0 L392.4,55.9 L392.7,62.9 L393.3,64.4 L393.9,66.9 L394.6,66.3 L395.4,64.9 L396.1,63.9 L396.9,63.4 L397.6,64.0 L398.4,65.4 L399.1,64.7 L399.9,64.9 L400.9,67.4 L401.5,67.4 L402.2,68.1 L402.9,67.9 L403.5,67.4 L404.2,67.7 L404.8,67.4 L405.6,66.8 L406.3,65.9 L407.1,65.3 L407.8,64.9 L408.6,65.2 L409.3,65.4 L410.1,65.4 L410.8,66.4 L411.6,66.4 L412.3,67.4 L413.1,65.8 L413.8,64.9 L414.5,56.9 L415.5,56.9 L416.2,57.6 L417.0,57.9 L417.7,57.7 L418.3,57.4 L419.0,57.4 L419.7,58.0 L420.5,58.4 L421.2,58.9 L422.0,59.4 L423.0,62.9 L423.7,63.7 L424.5,64.9 L425.2,65.2 L426.0,64.9 L426.7,63.6 L427.5,61.9 L428.2,62.1 L429.0,62.9 L429.7,62.8 L430.5,62.4 L431.2,63.0 L431.9,63.4 L432.9,60.4 L433.7,66.9 L434.6,67.1 L435.4,66.4 L436.2,66.4 L436.9,65.9 L437.7,64.4 L438.4,63.4 L439.2,64.9 L439.9,65.4 L440.7,65.5 L441.4,66.4 L442.4,61.9 L443.2,62.8 L443.9,63.9 L444.7,64.7 L445.4,64.9 L446.1,62.8 L446.7,61.4 L447.3,62.2 L447.9,62.9 L448.9,64.4 L449.6,64.2 L450.4,64.9 L451.1,64.6 L451.9,63.9 L452.6,64.0 L453.4,63.4 L454.0,64.8 L454.7,65.9 L455.4,59.4 L456.1,60.6 L456.9,60.9 L457.6,62.0 L458.4,63.4 L459.1,63.4 L459.9,62.9 L460.6,63.3 L461.4,63.4 L462.1,64.0 L462.9,64.4 L463.6,64.4 L464.3,64.4 L465.1,65.5 L465.8,65.9 L466.6,66.2 L467.3,65.4 L468.1,65.9 L468.8,66.4 L469.4,63.1 L470.0,59.4 L470.9,59.2 L471.8,59.9 L472.6,60.9 L473.3,61.4 L474.2,61.6 L475.0,61.4 L476.0,60.4 L476.7,59.5 L477.5,57.4 L478.5,64.9 L479.2,66.3 L480.0,66.9 L480.7,65.9 L481.5,65.4 L482.2,63.5 L483.0,61.9 L483.7,63.6 L484.5,64.9 L485.2,64.1 L486.0,64.4 L486.7,64.1 L487.5,63.9 L488.2,62.1 L489.0,60.9 L489.7,58.3 L490.5,56.4 L491.2,57.0 L491.9,58.4 L492.7,60.0 L493.4,60.9 L494.2,61.3 L494.9,62.4 L495.7,61.2 L496.4,60.4 L497.2,61.1 L497.9,61.9 L498.7,61.8 L499.4,60.9 L500.4,64.9 L501.2,65.5 L501.9,66.9 L502.7,65.6 L503.4,64.4 L504.2,66.0 L504.9,67.4 L505.7,66.8 L506.4,65.4 L507.2,63.5 L507.9,60.9 L508.6,59.1 L509.4,56.4 L510.1,54.5 L510.9,53.0 L511.6,54.1 L512.4,55.4 L513.4,58.4 L514.1,60.0 L514.9,61.9 L515.6,62.6 L516.4,62.4 L517.1,64.4 L517.9,65.4 L518.6,66.0 L519.4,67.4 L520.1,66.6 L520.9,66.4 L521.6,65.6 L522.4,65.4 L523.1,64.6 L523.9,64.4 L524.6,64.2 L525.3,63.9 L526.1,64.8 L526.8,65.4 L527.6,63.9 L528.3,62.9 L529.0,59.4 L529.6,56.9 L530.5,57.1 L531.3,57.4 L532.0,57.0 L532.7,56.8 L533.3,56.4 L534.1,58.4 L534.8,59.4 L535.5,58.4 L536.5,63.9 L537.2,64.9 L538.0,65.4 L538.7,65.2 L539.5,64.9 L540.2,64.3 L541.0,63.4 L541.7,62.6 L542.5,61.4 L543.5,62.9 L544.5,67.4 L545.2,66.4 L546.0,66.4 L546.7,66.4 L547.5,65.4 L548.2,65.0 L549.0,63.9 L549.7,64.1 L550.5,63.4 L551.2,63.0 L551.9,61.9 L552.7,63.8 L553.4,65.9 L554.4,60.9 L555.4,62.4 L556.4,64.9 L557.2,64.6 L557.9,64.4 L558.7,64.5 L559.4,65.4 L560.2,66.3 L560.9,66.9 L561.7,66.7 L562.4,67.4 L563.2,66.2 L563.9,65.9 L564.7,63.4 L565.4,61.4 L566.2,60.6 L566.9,60.4 L567.6,61.0 L568.4,61.9 L569.1,63.4 L569.9,65.9 L570.6,65.1 L571.4,65.4 L572.1,64.3 L572.9,63.9 L573.6,62.5 L574.4,61.9 L575.1,61.3 L575.9,60.9 L576.6,58.9 L577.4,57.9 L578.4,56.9 L579.4,61.9 L580.1,63.3 L580.9,63.9 L581.6,64.8 L582.4,65.4 L583.1,63.5 L583.9,62.4 L584.6,60.7 L585.3,59.4 L586.1,60.5 L586.8,61.9 L587.6,62.0 L588.3,62.4 L589.1,61.3 L589.8,60.9 L590.6,61.6 L591.3,61.4 L592.1,63.7 L592.8,64.9 L593.4,65.9 L594.0,66.9 L594.7,65.6 L595.5,64.4 L596.2,64.0 L597.0,64.4 L597.6,61.5 L598.2,59.4 L599.0,63.9 L599.7,62.5 L600.5,61.4 L601.2,61.9 L602.0,62.9 L602.7,64.0 L603.5,64.4 L604.2,65.0 L605.0,66.4 L605.7,64.6 L606.5,63.9 L607.2,64.4 L608.0,63.9 L608.7,64.2 L609.5,64.4 L610.2,62.8 L610.9,61.9 L611.7,62.2 L612.4,62.4 L613.2,60.9 L613.9,60.4 L614.7,60.2 L615.4,59.9 L616.2,60.7 L616.9,60.4 L617.9,63.9 L618.7,64.6 L619.4,64.4 L620.2,63.9 L620.9,62.9 L621.7,63.4 L622.4,64.4 L623.2,65.0 L623.9,65.9 L624.7,66.8 L625.4,68.4 L626.2,67.5 L626.9,65.9 L627.6,65.7 L628.4,65.4 L629.1,65.2 L629.9,64.4 L630.6,64.2 L631.4,64.4 L632.1,65.4 L632.9,66.9 L633.6,67.8 L634.4,67.9 L635.1,67.7 L635.9,66.4 L636.6,64.6 L637.4,61.9 L638.4,59.4 L639.4,53.5 L640.1,60.9 L640.7,59.5 L641.4,57.4 L642.1,58.8 L642.9,59.4 L643.6,61.9 L644.3,63.9 L645.1,63.9 L645.8,64.4 L646.6,62.4 L647.3,60.4 L648.1,61.0 L648.8,61.9 L649.6,61.9 L650.3,62.9 L651.3,61.9 L651.6,63.4" fill="none" stroke="#2f7fbd" stroke-width="1.15" stroke-linejoin="round"/>
<path d="M357.0,61.9 L357.7,61.7 L358.5,62.4 L359.2,61.7 L360.0,61.4 L360.7,60.9 L361.5,60.9 L362.2,61.6 L363.0,61.9 L363.5,64.4 L364.2,64.4 L365.0,63.4 L365.6,63.4 L366.3,63.9 L367.0,63.4 L367.6,64.3 L368.3,64.6 L369.0,64.4 L370.0,66.4 L370.7,66.0 L371.4,65.9 L372.2,64.6 L372.9,63.9 L373.9,60.9 L374.7,61.6 L375.4,62.9 L376.4,63.9 L377.2,62.1 L377.9,60.9 L378.9,57.9 L379.5,55.1 L380.1,53.0 L380.7,58.9 L381.4,63.9 L382.4,65.4 L383.4,63.9 L384.4,61.9 L385.2,62.3 L385.9,62.4 L386.7,63.1 L387.4,62.9 L388.1,63.1 L388.9,62.4 L389.6,61.2 L390.4,59.9 L391.0,60.4 L391.7,60.4 L392.4,63.9 L393.4,67.4 L394.1,67.0 L394.9,65.9 L395.6,65.0 L396.4,64.9 L397.1,65.3 L397.9,65.4 L398.6,65.4 L399.4,64.4 L400.4,66.9 L401.1,67.7 L401.9,67.9 L402.6,67.7 L403.4,66.9 L404.1,66.4 L404.8,65.9 L405.6,64.6 L406.3,63.9 L407.1,64.5 L407.8,64.4 L408.8,61.9 L409.8,64.9 L410.6,63.5 L411.3,62.4 L412.3,63.9 L413.1,64.3 L413.8,63.9 L414.7,62.7 L415.5,60.4 L416.2,60.0 L416.8,59.7 L417.5,59.4 L418.2,59.9 L418.8,59.7 L419.5,59.4 L420.2,59.6 L421.0,60.4 L421.7,61.0 L422.5,62.4 L423.5,64.9 L424.2,64.8 L425.0,65.4 L425.7,65.4 L426.5,64.4 L427.5,61.9 L428.2,62.8 L429.0,62.9 L429.7,62.3 L430.5,62.4 L431.4,63.9 L432.1,62.0 L432.7,59.4 L433.4,66.4 L434.2,67.2 L434.9,66.9 L435.7,66.1 L436.4,64.9 L437.2,64.3 L437.9,63.9 L438.7,64.5 L439.4,64.9 L440.2,65.5 L440.9,66.9 L441.5,63.4 L442.1,60.9 L442.9,63.9 L443.7,64.9 L444.4,64.9 L445.2,65.3 L445.9,65.4 L446.9,62.4 L447.6,62.2 L448.4,61.9 L449.4,64.9 L450.1,65.6 L450.9,65.4 L451.6,65.1 L452.4,64.9 L453.1,64.8 L453.9,63.9 L454.6,62.5 L455.4,60.4 L456.1,60.9 L456.9,61.9 L457.6,62.7 L458.4,63.9 L459.1,63.4 L459.9,63.4 L460.6,63.4 L461.4,63.9 L462.1,64.3 L462.9,64.4 L463.6,64.4 L464.3,64.9 L465.1,65.6 L465.8,66.4 L466.6,65.0 L467.3,64.4 L468.1,65.6 L468.8,65.9 L469.8,62.4 L470.6,62.3 L471.3,62.4 L472.1,62.9 L472.8,63.4 L473.7,63.3 L474.5,62.9 L475.2,63.4 L476.0,62.9 L476.7,62.6 L477.5,62.4 L478.2,64.1 L479.0,64.9 L479.7,65.7 L480.5,66.4 L481.2,65.7 L482.0,64.9 L483.0,62.4 L483.7,63.7 L484.5,64.9 L485.2,64.9 L486.0,65.9 L486.7,65.4 L487.5,64.9 L488.2,63.6 L489.0,62.9 L489.7,61.4 L490.5,60.9 L491.2,61.5 L491.9,61.4 L492.7,60.6 L493.4,60.4 L494.2,59.7 L494.9,58.9 L495.7,58.7 L496.4,57.9 L497.2,58.5 L497.9,58.9 L498.9,61.4 L499.7,62.5 L500.4,63.9 L501.2,64.2 L501.9,64.4 L502.7,64.2 L503.4,63.9 L504.2,65.5 L504.9,66.4 L505.7,65.2 L506.4,64.9 L507.2,63.5 L507.9,61.9 L508.6,60.4 L509.4,59.4 L510.1,58.9 L510.9,58.9 L511.6,59.5 L512.4,59.4 L513.1,60.2 L513.9,60.9 L514.6,61.7 L515.4,62.4 L516.1,62.5 L516.9,61.9 L517.6,63.9 L518.4,64.9 L519.1,65.4 L519.9,65.9 L520.6,66.3 L521.4,66.4 L522.1,66.2 L522.9,65.9 L523.6,65.7 L524.3,65.4 L525.1,65.4 L525.8,64.9 L526.6,65.1 L527.3,65.4 L528.1,63.7 L528.8,61.9 L529.8,58.4 L530.6,58.2 L531.3,57.9 L532.1,58.9 L532.8,58.9 L533.7,59.9 L534.5,60.4 L535.5,61.4 L536.2,64.1 L537.0,65.9 L537.7,66.4 L538.5,65.9 L539.2,65.2 L540.0,64.9 L540.7,64.5 L541.5,63.9 L542.2,63.7 L543.0,62.4 L544.0,59.9 L545.0,65.9 L545.7,66.5 L546.5,66.4 L547.2,65.3 L548.0,64.9 L548.7,64.3 L549.5,64.4 L550.2,64.1 L550.9,63.9 L551.9,61.4 L552.7,61.7 L553.4,62.9 L554.4,59.4 L555.4,62.9 L556.4,65.9 L557.2,65.6 L557.9,65.9 L558.7,65.2 L559.4,65.4 L560.2,66.1 L560.9,66.4 L561.7,67.5 L562.4,67.9 L563.2,67.6 L563.9,66.4 L564.7,64.0 L565.4,62.4 L566.2,62.4 L566.9,61.9 L567.6,62.6 L568.4,62.9 L569.1,63.8 L569.9,65.4 L570.6,65.6 L571.4,64.9 L572.1,64.7 L572.9,63.4 L573.6,62.6 L574.4,62.4 L575.1,62.7 L575.9,61.9 L576.6,61.1 L577.4,60.4 L578.1,61.2 L578.9,61.9 L579.6,63.7 L580.4,64.4 L581.1,65.5 L581.9,65.9 L582.6,64.5 L583.4,63.9 L584.1,63.1 L584.8,62.4 L585.6,61.9 L586.3,61.4 L587.1,61.5 L587.8,61.9 L588.6,61.3 L589.3,61.4 L590.1,62.0 L590.8,62.9 L591.6,63.7 L592.3,63.9 L593.2,64.4 L594.0,65.9 L594.7,65.5 L595.5,64.9 L596.2,64.9 L597.0,64.9 L597.6,61.9 L598.2,59.9 L599.0,64.4 L599.7,63.5 L600.5,62.9 L601.2,62.3 L602.0,61.4 L602.7,63.2 L603.5,64.9 L604.2,64.9 L605.0,65.9 L605.7,65.7 L606.5,64.4 L607.2,65.2 L608.0,65.4 L608.7,65.7 L609.5,64.9 L610.2,64.0 L610.9,63.9 L611.7,63.2 L612.4,62.9 L613.2,60.9 L613.9,59.9 L614.7,60.0 L615.4,59.4 L616.2,59.4 L616.9,59.9 L617.9,63.4 L618.7,63.5 L619.4,64.4 L620.2,64.3 L620.9,64.4 L621.7,65.4 L622.4,65.4 L623.2,66.3 L623.9,66.4 L624.7,67.4 L625.4,68.9 L626.2,67.5 L626.9,66.9 L627.6,66.9 L628.4,65.9 L629.1,66.0 L629.9,65.9 L630.6,66.4 L631.4,66.4 L632.1,66.5 L632.9,67.4 L633.6,66.9 L634.4,67.4 L635.1,67.4 L635.9,66.9 L636.6,66.6 L637.4,66.4 L638.4,61.9 L639.4,55.9 L640.1,62.9 L640.7,61.0 L641.4,59.9 L642.1,61.2 L642.9,61.4 L643.6,63.1 L644.3,64.4 L645.1,65.0 L645.8,64.9 L646.6,63.5 L647.3,62.9 L648.1,64.1 L648.8,64.4 L649.6,64.7 L650.3,65.9 L651.3,59.4 L651.6,62.9" fill="none" stroke="#f28e3c" stroke-width="1.35" stroke-linejoin="round"/>
<path d="M355.2,69.60 h-1.6" stroke="#666" stroke-width="0.9"/>
<text x="352.2" y="73.60" font-size="11.05" text-anchor="end" class="k">0</text>
<path d="M355.2,53.20 h-1.6" stroke="#666" stroke-width="0.9"/>
<text x="352.2" y="57.20" font-size="11.05" text-anchor="end" class="k">2</text>
<path d="M355.2,36.80 h-1.6" stroke="#666" stroke-width="0.9"/>
<text x="352.2" y="40.80" font-size="11.05" text-anchor="end" class="k">4</text>
<path d="M355.2,20.40 h-1.6" stroke="#666" stroke-width="0.9"/>
<text x="352.2" y="24.40" font-size="11.05" text-anchor="end" class="k">6</text>
<path d="M356.50,70 v3.4" stroke="#444" stroke-width="1"/>
<text x="350.00" y="85.8" font-size="11.05" class="k">0Mb</text>
<path d="M396.50,70 v3.4" stroke="#444" stroke-width="1"/>
<text x="381.40" y="85.8" font-size="11.05" class="k">25Mb</text>
<path d="M437.50,70 v3.4" stroke="#444" stroke-width="1"/>
<text x="419.40" y="85.8" font-size="11.05" class="k">50Mb</text>
<path d="M478.00,70 v3.4" stroke="#444" stroke-width="1"/>
<text x="457.00" y="85.8" font-size="11.05" class="k">75Mb</text>
<path d="M518.50,70 v3.4" stroke="#444" stroke-width="1"/>
<text x="494.00" y="85.8" font-size="11.05" class="k">100Mb</text>
<path d="M559.50,70 v3.4" stroke="#444" stroke-width="1"/>
<text x="536.70" y="85.8" font-size="11.05" class="k">125Mb</text>
<path d="M600.00,70 v3.4" stroke="#444" stroke-width="1"/>
<text x="579.80" y="85.8" font-size="11.05" class="k">150Mb</text>
<path d="M640.50,70 v3.4" stroke="#444" stroke-width="1"/>
<text x="622.50" y="85.8" font-size="11.05" class="k">175Mb</text>
<text x="488.2" y="100.3" font-size="12.2" text-anchor="middle" class="k">Chromosome 2</text>
<text x="365" y="24" font-size="12.15" class="k">ΔNCAPH2</text>
<path d="M529.3,18.4 h15.4" stroke="#f28e3c" stroke-width="1.2"/>
<text x="547.6" y="22.2" font-size="12.3" class="k">conditions</text>
<path d="M612.6,18.4 h15.4" stroke="#2f7fbd" stroke-width="1.2"/>
<text x="631.6" y="22.2" font-size="12.3" class="k">replicates</text>
<text x="322" y="15.8" font-size="18" font-weight="bold" style="fill:#161616" stroke="#161616" stroke-width="0.2" stroke-linejoin="round" letter-spacing="0.3">b.</text>
</g>
</svg>
</body></html>
